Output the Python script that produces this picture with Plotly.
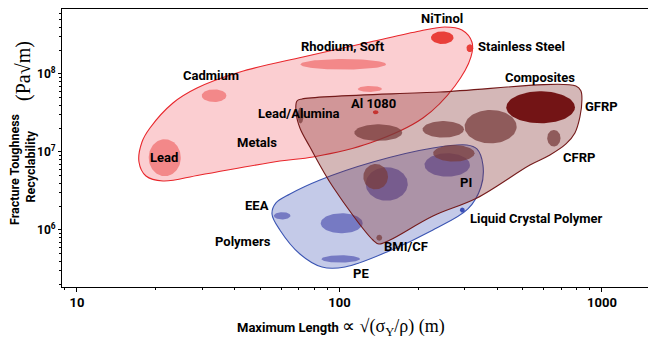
import numpy as np
import plotly.graph_objects as go

# ---------------- data ----------------
# Hull outlines: x = maximum length (m), y = fracture toughness (Pa*sqrt(m))
metals_hull_x = [17.23, 17.69, 18.97, 23.21, 28.65, 41.78, 72.6, 130.7, 202.6, 252.3, 292.9,
                 319.7, 317, 275.4, 208, 130.7, 79.3, 59.3, 29.4, 21.27, 18.32]
metals_hull_y = [7.44e6, 1.344e7, 2.03e7, 4.25e7, 6.61e7, 1.06e8, 1.652e8, 2.572e8, 3.557e8, 4.005e8, 3.665e8,
                 2.572e8, 1.652e8, 7.02e7, 2.73e7, 1.304e7, 8.63e6, 7.66e6, 5.07e6, 4.25e6, 4.92e6]

composites_hull_x = [68.3, 68.9, 71.96, 241.5, 796, 831.8, 839, 824.5, 789, 729.4, 633.8, 531.8,
                     334, 227.1, 155.8, 141.4, 134.1, 94.5, 77.2, 70.7]
composites_hull_y = [3.256e7, 4.506e7, 4.78e7, 5.88e7, 7.02e7, 6.06e7, 4.64e7, 2.81e7, 1.752e7, 1.267e7, 9.15e6, 6.81e6,
                     2.572e6, 1.512e6, 7.44e5, 6.61e5, 7.44e5, 3.557e6, 1.159e7, 2.03e7]

polymers_hull_x = [55.33, 57.3, 64.8, 84.3, 134.1, 227.1, 305.9, 334, 352.1, 346, 308.6, 227.1,
                   151.7, 105, 85.8, 70.7, 59.3]
polymers_hull_y = [1.604e6, 2.22e6, 2.894e6, 4.375e6, 7.44e6, 1.125e7, 1.229e7, 1.093e7, 6.81e6, 3.557e6, 1.859e6, 1.0e6,
                   5.22e5, 3.354e5, 3.354e5, 4.92e5, 1.0e6]

# Material ellipses: centre (x, y) and half-extent in decades (dx, dy)
metals_x = [21.6, 33.3, 103.4, 130.6, 246.4, 314, 137.4]
metals_y = [8.45e6, 5.27e7, 1.33e8, 6.43e7, 2.92e8, 2.14e8, 3.23e7]
metals_dx = [0.061, 0.047, 0.163, 0.046, 0.043, 0.013, 0.011]
metals_dy = [0.237, 0.081, 0.068, 0.038, 0.081, 0.051, 0.026]
metals_strong = [False, False, False, False, True, True, True]

polymers_x = [257.5, 151.4, 60.5, 102, 101.1, 293.8]
polymers_y = [6.81e6, 3.89e6, 1.52e6, 1.22e6, 4.25e5, 1.8e6]
polymers_dx = [0.0865, 0.08, 0.0316, 0.08, 0.0735, 0.0095]
polymers_dy = [0.15, 0.214, 0.047, 0.128, 0.047, 0.032]
polymers_strong = [False, False, False, False, False, True]

composites_x = [584, 656, 376.7, 248.6, 140.6, 272.9, 137.4, 141.8, 71.1]
composites_y = [3.74e7, 1.5e7, 2.11e7, 1.95e7, 1.77e7, 9.62e6, 4.82e6, 7.96e5, 2.94e7]
composites_dx = [0.1307, 0.0255, 0.099, 0.0789, 0.0914, 0.0789, 0.047, 0.0114, 0.0114]
composites_dy = [0.205, 0.106, 0.214, 0.106, 0.106, 0.106, 0.163, 0.038, 0.103]
composites_strong = [True, False, False, False, False, False, False, False, False]

# Text labels
label_text = ["NiTinol", "Stainless Steel", "Rhodium, Soft", "Cadmium", "Lead/Alumina", "Al 1080",
              "Composites", "GFRP", "CFRP", "PI", "Metals", "EEA", "Polymers", "BMI/CF", "PE",
              "Liquid Crystal Polymer", "Lead"]
label_x = [245.8, 495.6, 103.1, 32.4, 70.1, 135.3, 580.5, 1000, 817.4, 303.3, 48.5, 48.5, 42.9, 179.2, 120.8, 565.5, 21.45]
label_y = [5.22e8, 2.22e8, 2.22e8, 9.7e7, 3.16e7, 4.125e7, 8.89e7, 3.776e7, 8.38e6, 4.005e6, 1.304e7, 2.03e6,
           7.02e5, 6.06e5, 2.73e5, 1.384e6, 8.38e6]

x_ticks = [10, 100, 1000]
x_tick_labels = ["10", "100", "1000"]
y_ticks = [1e6, 1e7, 1e8]
y_tick_labels = ["10<sup>6</sup>", "10<sup>7</sup>", "10<sup>8</sup>"]

# ---------------- figure ----------------
# the page body adds an 8px offset, so margins are expressed relative to it
OFF = 8
W, H = 656, 350
ML, MR, MT, MB = 62 - OFF, OFF, 9 - OFF, H - (287 - OFF)
FONT = "Roboto"
FS = 13

fig = go.Figure()
t = np.linspace(0, 2 * np.pi, 91)


def add_hull(xs, ys, fill, line):
    fig.add_trace(go.Scatter(
        x=list(xs) + [xs[0]], y=list(ys) + [ys[0]], mode="lines",
        line=dict(color=line, width=1.1, shape="spline", smoothing=1.0),
        fill="toself", fillcolor=fill, hoverinfo="skip", showlegend=False))


def add_ellipses(xs, ys, dxs, dys, strong, c_soft, c_strong):
    for x, y, a, b, s in zip(xs, ys, dxs, dys, strong):
        ex = 10 ** (np.log10(x) + a * np.cos(t))
        ey = 10 ** (np.log10(y) + b * np.sin(t))
        fig.add_trace(go.Scatter(
            x=ex, y=ey, mode="lines", line=dict(width=0, color="rgba(0,0,0,0)"),
            fill="toself", fillcolor=c_strong if s else c_soft,
            hoverinfo="skip", showlegend=False))


add_hull(polymers_hull_x, polymers_hull_y, "rgba(60,80,180,0.30)", "#3b55b3")
add_ellipses(polymers_x, polymers_y, polymers_dx, polymers_dy, polymers_strong,
             "rgba(70,72,172,0.62)", "rgba(50,70,180,0.95)")
add_hull(metals_hull_x, metals_hull_y, "rgba(240,60,70,0.25)", "#e8262b")
add_ellipses(metals_x, metals_y, metals_dx, metals_dy, metals_strong,
             "rgba(235,65,65,0.50)", "rgba(232,55,50,0.95)")
add_hull(composites_hull_x, composites_hull_y, "rgba(120,30,30,0.32)", "#741a1a")
add_ellipses(composites_x, composites_y, composites_dx, composites_dy, composites_strong,
             "rgba(120,60,60,0.75)", "rgba(112,14,16,0.97)")

annotations = []
for txt, x, y in zip(label_text, label_x, label_y):
    annotations.append(dict(x=np.log10(x), y=np.log10(y), xref="x", yref="y", text=txt,
                            showarrow=False, xanchor="center", yanchor="middle",
                            font=dict(family=FONT, size=FS, color="black", weight="bold")))

pw, ph = W - ML - MR, H - MT - MB


def px(xw):
    return (xw - OFF - ML) / pw


def py(yw):
    return (H - MB - (yw - OFF)) / ph


annotations += [
    dict(x=px(14), y=py(169), xref="paper", yref="paper", text="Fracture Toughness", textangle=-90,
         showarrow=False, xanchor="center", yanchor="middle",
         font=dict(family=FONT, size=12.5, color="black", weight="bold")),
    dict(x=px(29.5), y=py(167), xref="paper", yref="paper", text="Recyclability", textangle=-90,
         showarrow=False, xanchor="center", yanchor="middle",
         font=dict(family=FONT, size=12.5, color="black", weight="bold")),
    dict(x=px(24), y=py(71), xref="paper", yref="paper", text="(Pa√m)", textangle=-90,
         showarrow=False, xanchor="center", yanchor="middle",
         font=dict(family="Liberation Serif", size=20, color="black")),
    dict(x=px(341), y=py(327), xref="paper", yref="paper",
         text="<b>Maximum Length</b> <span style='font-family:Liberation Serif;font-size:18px'>∝ √(σ<sub>Y</sub>/ρ) (m)</span>",
         showarrow=False, xanchor="center", yanchor="middle",
         font=dict(family=FONT, size=FS, color="black")),
]

minor_x = [m * 10 ** k for k in range(0, 4) for m in range(2, 10)]
minor_y = [m * 10 ** k for k in range(5, 9) for m in range(2, 10)]

fig.update_layout(
    width=W, height=H, margin=dict(l=ML, r=MR, t=MT, b=MB, autoexpand=False),
    paper_bgcolor="white", plot_bgcolor="white",
    font=dict(family=FONT, size=FS, color="black"),
    annotations=annotations,
    showlegend=False,
    xaxis=dict(type="log", range=[0.943, 3.206], showline=True, linecolor="black", linewidth=1,
               mirror=True, ticks="outside", ticklen=3.5, tickwidth=1, tickcolor="black",
               tickvals=x_ticks, ticktext=x_tick_labels, showgrid=False, zeroline=False,
               tickfont=dict(family=FONT, size=FS, color="black", weight="bold"),
               minor=dict(tickvals=minor_x, ticks="outside", ticklen=2, tickcolor="black", showgrid=False)),
    yaxis=dict(type="log", range=[5.269, 8.833], showline=True, linecolor="black", linewidth=1,
               mirror=False, ticks="outside", ticklen=3, tickwidth=1, tickcolor="black",
               tickvals=y_ticks, ticktext=y_tick_labels, showgrid=False, zeroline=False,
               tickfont=dict(family=FONT, size=12, color="black", weight="bold"),
               minor=dict(tickvals=minor_y, ticks="outside", ticklen=2, tickcolor="black", showgrid=False)),
)

fig.write_html("out.html")
